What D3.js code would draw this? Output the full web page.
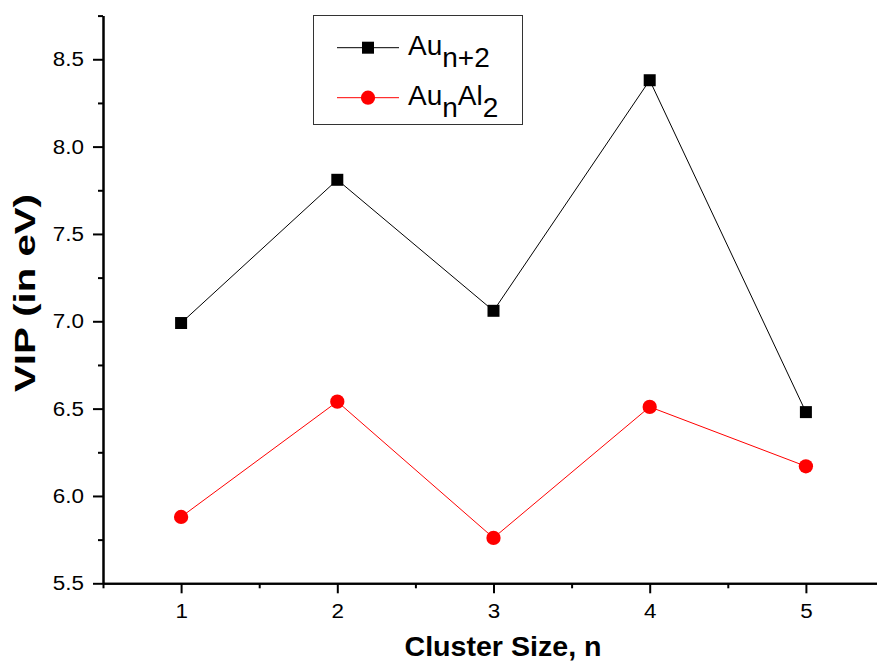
<!DOCTYPE html>
<html>
<head>
<meta charset="utf-8">
<script src="https://cdn.jsdelivr.net/npm/d3@7"></script>
<style>
  html, body { margin: 0; padding: 0; background: #fff; }
  svg { display: block; font-family: "Liberation Sans", Arial, sans-serif; }
</style>
</head>
<body>
<svg id="chart" width="877" height="664"></svg>
<script>
// Cluster sizes and vertical ionization potentials (eV)
const clusterSizes = [1, 2, 3, 4, 5];
const vipAuN2 = [6.99, 7.81, 7.06, 8.38, 6.48];
const vipAuNAl2 = [5.88, 6.54, 5.76, 6.51, 6.17];

// Axis ticks
const xMajorTicks = [1, 2, 3, 4, 5];
const xMinorTicks = [0.5, 1.5, 2.5, 3.5, 4.5];
const yMajorTicks = [5.5, 6.0, 6.5, 7.0, 7.5, 8.0, 8.5];
const yMinorTicks = [5.75, 6.25, 6.75, 7.25, 7.75, 8.25, 8.75];

const svg = d3.select("#chart");

const x = d3.scaleLinear().domain([0.5, 5.5]).range([103, 884]);
const y = d3.scaleLinear().domain([5.5, 8.75]).range([583.3, 15.6]);

// Axes: major ticks with labels, minor ticks without
const xAxis = svg.append("g").attr("transform", `translate(0,${y(5.5)})`);
xAxis.call(d3.axisBottom(x).tickValues(xMajorTicks).tickSize(10).tickSizeOuter(0).tickPadding(11)
  .tickFormat(d3.format("d")));
xAxis.append("g").call(d3.axisBottom(x).tickValues(xMinorTicks).tickSize(5).tickSizeOuter(0).tickFormat(""));

const yAxis = svg.append("g").attr("transform", `translate(${x(0.5)},0)`);
yAxis.call(d3.axisLeft(y).tickValues(yMajorTicks).tickSize(10).tickSizeOuter(0).tickPadding(9)
  .tickFormat(d3.format(".1f")));
yAxis.append("g").call(d3.axisLeft(y).tickValues(yMinorTicks).tickSize(5).tickSizeOuter(0).tickFormat(""));

svg.selectAll(".domain").attr("stroke", "#000").attr("stroke-width", 2);
svg.selectAll(".tick line").attr("stroke", "#000").attr("stroke-width", 2);
svg.selectAll(".tick text")
  .attr("font-size", 20).attr("fill", "#000")
  .attr("font-family", "'Liberation Sans', Arial, sans-serif")
  .each(function () {
    // slightly wide lettering for the tick labels
    const len = this.getComputedTextLength();
    d3.select(this).attr("textLength", len * 1.12).attr("lengthAdjust", "spacingAndGlyphs");
  });

// Axis titles
svg.append("text")
  .attr("x", 503).attr("y", 656)
  .attr("text-anchor", "middle")
  .attr("font-size", 28).attr("font-weight", "bold")
  .attr("textLength", 197).attr("lengthAdjust", "spacingAndGlyphs")
  .text("Cluster Size, n");

svg.append("text")
  .attr("transform", "translate(35,293) rotate(-90)")
  .attr("text-anchor", "middle")
  .attr("font-size", 29).attr("font-weight", "bold")
  .attr("textLength", 198).attr("lengthAdjust", "spacingAndGlyphs")
  .text("VIP (in eV)");

// Series
const series = [
  { values: vipAuN2, color: "#000", shape: "square" },
  { values: vipAuNAl2, color: "#ff0000", shape: "circle" }
];

const line = d3.line().x((d, i) => x(clusterSizes[i])).y(d => y(d));
const markerPath = shape => d3.symbol()
  .type(shape === "square" ? d3.symbolSquare : d3.symbolCircle)
  .size(shape === "square" ? 144 : 160)();

series.forEach(s => {
  svg.append("path")
    .datum(s.values)
    .attr("d", line)
    .attr("fill", "none")
    .attr("stroke", s.color)
    .attr("stroke-width", 1);

  svg.selectAll(null)
    .data(s.values)
    .join("path")
    .attr("transform", (d, i) => `translate(${x(clusterSizes[i])},${y(d)})`)
    .attr("d", markerPath(s.shape))
    .attr("fill", s.color);
});

// Legend
const legend = svg.append("g");
legend.append("rect")
  .attr("x", 313.5).attr("y", 15.5).attr("width", 209).attr("height", 109)
  .attr("fill", "#fff").attr("stroke", "#333").attr("stroke-width", 1);

const legendRows = [
  { color: "#000", shape: "square", cy: 47.7, parts: [["Au", 0], ["n+2", 1]] },
  { color: "#ff0000", shape: "circle", cy: 97.7, parts: [["Au", 0], ["n", 1], ["Al", 0], ["2", 1]] }
];

legendRows.forEach(r => {
  legend.append("line")
    .attr("x1", 337).attr("x2", 399).attr("y1", r.cy).attr("y2", r.cy)
    .attr("stroke", r.color).attr("stroke-width", 1);
  legend.append("path")
    .attr("transform", `translate(368,${r.cy})`)
    .attr("d", markerPath(r.shape))
    .attr("fill", r.color);

  const t = legend.append("text")
    .attr("x", 408).attr("y", r.cy + 7.5)
    .attr("font-size", 28).attr("fill", "#000");
  let level = 0;
  r.parts.forEach(([txt, sub]) => {
    t.append("tspan").attr("dy", (sub - level) * 12).text(txt);
    level = sub;
  });
});
</script>
</body>
</html>
